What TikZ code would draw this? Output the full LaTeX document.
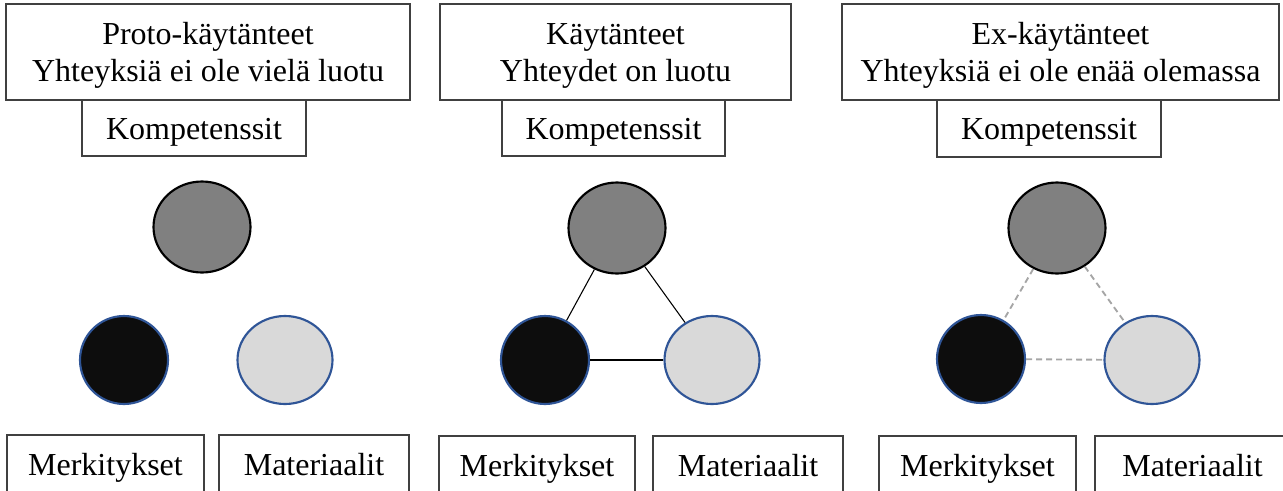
\documentclass[tikz,border=0pt]{standalone}
\usepackage{fontspec}
\setmainfont{Liberation Serif}
\usetikzlibrary{shapes.geometric}
\newdimen\pxu \pxu=0.75pt
\newcommand{\boxtext}[2]{\raisebox{-#1\pxu}[0pt][0pt]{\begin{tabular}[b]{@{}c@{}}#2\end{tabular}}}
\definecolor{boxline}{HTML}{404040}
\definecolor{compfill}{HTML}{808080}
\definecolor{meanfill}{HTML}{0D0D0D}
\definecolor{matfill}{HTML}{D9D9D9}
\definecolor{ringblue}{HTML}{2F5597}
\definecolor{lostlink}{HTML}{A6A6A6}
\begin{document}
\begin{tikzpicture}[x=0.75pt,y=-0.75pt,
  lbl/.style n args={2}{rectangle, draw=boxline, line width=1.1pt, inner sep=0pt, fill=white,
     minimum width=#1*0.75pt, minimum height=#2*0.75pt, font=\fontsize{24}{27.75}\selectfont},
  compcirc/.style={ellipse, draw=black, line width=1.6pt, fill=compfill, inner sep=0pt,
     minimum width=97*0.75pt, minimum height=91*0.75pt},
  meancirc/.style={ellipse, draw=ringblue, line width=1.6pt, fill=meanfill, inner sep=0pt,
     minimum width=88*0.75pt, minimum height=88*0.75pt},
  matcirc/.style={ellipse, draw=ringblue, line width=1.6pt, fill=matfill, inner sep=0pt,
     minimum width=95*0.75pt, minimum height=88*0.75pt},
  link/.style={draw=black, line width=0.8pt},
  brokenlink/.style={draw=lostlink, line width=1.4pt, dash pattern=on 4.5pt off 3pt}]
\useasboundingbox (0,0) rectangle (1283,490);
\clip (0,0) rectangle (1283,490);
% ---------- panel 1 ----------
\node[lbl={404}{96}] (T1) at (208,52) {\boxtext{29}{Proto-käytänteet\\Yhteyksiä ei ole vielä luotu}};
\node[lbl={224}{56}] (K1) at (194,128) {\boxtext{11}{Kompetenssit}};
\node[compcirc] (G1) at (202,227) {};
\node[meancirc] (B1) at (124,360) {};
\node[matcirc] (L1) at (285,360) {};
\node[lbl={197}{70}] (M1) at (105.5,470) {\boxtext{5}{Merkitykset}};
\node[lbl={190}{70}] (A1) at (314,470) {\boxtext{5}{Materiaalit}};
% ---------- panel 2 ----------
\node[lbl={351}{96}] (T2) at (615.5,52) {\boxtext{29}{Käytänteet\\Yhteydet on luotu}};
\node[lbl={223}{56}] (K2) at (613.5,128) {\boxtext{11}{Kompetenssit}};
\node[compcirc] (G2) at (617,228) {};
\node[meancirc] (B2) at (545,360) {};
\node[matcirc] (L2) at (712,360) {};
\draw[link] (G2) -- (B2);
\draw[link] (G2) -- (L2);
\draw[link] (B2) -- (L2);
\node[lbl={196}{70}] (M2) at (537,471) {\boxtext{5}{Merkitykset}};
\node[lbl={190}{70}] (A2) at (748,471) {\boxtext{5}{Materiaalit}};
% ---------- panel 3 ----------
\node[lbl={437}{96}] (T3) at (1060.5,52) {\boxtext{29}{Ex-käytänteet\\Yhteyksiä ei ole enää olemassa}};
\node[lbl={224}{57}] (K3) at (1049,128.5) {\boxtext{11}{Kompetenssit}};
\node[compcirc] (G3) at (1057,228) {};
\node[meancirc] (B3) at (981,359) {};
\node[matcirc] (L3) at (1152,360) {};
\draw[brokenlink] (G3) -- (B3);
\draw[brokenlink] (G3) -- (L3);
\draw[brokenlink] (B3) -- (L3);
\node[lbl={197}{70}] (M3) at (977.5,471) {\boxtext{5}{Merkitykset}};
\node[lbl={195}{70}] (A3) at (1192.5,471) {\boxtext{5}{Materiaalit}};
\end{tikzpicture}
\end{document}
